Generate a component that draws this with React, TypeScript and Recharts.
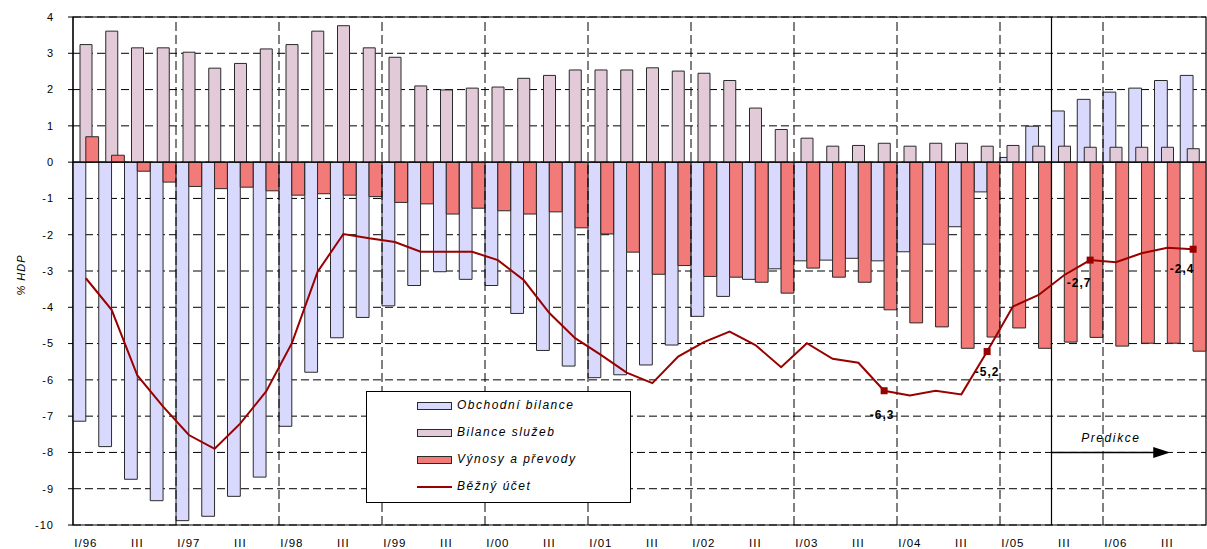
import React from "react";
import {
  ComposedChart,
  Bar,
  Line,
  XAxis,
  YAxis,
  CartesianGrid,
  ReferenceLine,
  ReferenceArea,
  Legend,
} from "recharts";

// ---------- data ----------
const quarters = [
  "I/96", "II/96", "III/96", "IV/96",
  "I/97", "II/97", "III/97", "IV/97",
  "I/98", "II/98", "III/98", "IV/98",
  "I/99", "II/99", "III/99", "IV/99",
  "I/00", "II/00", "III/00", "IV/00",
  "I/01", "II/01", "III/01", "IV/01",
  "I/02", "II/02", "III/02", "IV/02",
  "I/03", "II/03", "III/03", "IV/03",
  "I/04", "II/04", "III/04", "IV/04",
  "I/05", "II/05", "III/05", "IV/05",
  "I/06", "II/06", "III/06", "IV/06",
];

const seriesNames = ["Obchodní bilance", "Bilance služeb", "Výnosy a převody", "Běžný účet"];

// Obchodní bilance
const tradeBalance = [
  -7.14, -7.84, -8.74, -9.33, -9.88, -9.76, -9.21, -8.68,
  -7.28, -5.79, -4.84, -4.28, -3.96, -3.40, -3.02, -3.23,
  -3.40, -4.17, -5.19, -5.62, -5.94, -5.86, -5.59, -5.04,
  -4.25, -3.70, -3.23, -2.94, -2.72, -2.70, -2.65, -2.72,
  -2.47, -2.26, -1.78, -0.82, 0.13, 0.99, 1.41, 1.73,
  1.93, 2.04, 2.25, 2.39,
];

// Bilance služeb
const servicesBalance = [
  3.24, 3.61, 3.15, 3.15, 3.03, 2.59, 2.72, 3.12,
  3.24, 3.61, 3.76, 3.15, 2.89, 2.10, 1.99, 2.04,
  2.07, 2.31, 2.39, 2.54, 2.54, 2.54, 2.60, 2.51,
  2.45, 2.25, 1.49, 0.90, 0.66, 0.44, 0.46, 0.52,
  0.44, 0.52, 0.52, 0.44, 0.46, 0.44, 0.44, 0.41,
  0.41, 0.41, 0.41, 0.37,
];

// Výnosy a převody
const incomeTransfers = [
  0.70, 0.19, -0.25, -0.55, -0.67, -0.73, -0.69, -0.79,
  -0.91, -0.87, -0.91, -0.95, -1.11, -1.15, -1.43, -1.27,
  -1.34, -1.43, -1.37, -1.81, -1.98, -2.48, -3.09, -2.85,
  -3.15, -3.17, -3.31, -3.61, -2.92, -3.17, -3.31, -4.07,
  -4.43, -4.54, -5.13, -4.82, -4.57, -5.13, -4.96, -4.83,
  -5.07, -4.99, -4.99, -5.21,
];

// Běžný účet
const currentAccount = [
  -3.20, -4.07, -5.88, -6.74, -7.52, -7.90, -7.20, -6.32,
  -4.99, -3.02, -1.98, -2.10, -2.20, -2.47, -2.47, -2.47,
  -2.70, -3.25, -4.16, -4.85, -5.31, -5.80, -6.09, -5.36,
  -4.96, -4.67, -5.04, -5.65, -4.99, -5.42, -5.53, -6.30,
  -6.43, -6.30, -6.40, -5.22, -3.98, -3.66, -3.11, -2.70,
  -2.76, -2.51, -2.36, -2.40,
];

const pointLabels: Record<number, string> = {
  31: "-6,3",
  35: "-5,2",
  39: "-2,7",
  43: "-2,4",
};

const yTicks = [-10, -9, -8, -7, -6, -5, -4, -3, -2, -1, 0, 1, 2, 3, 4];
const predictionLabel = "Predikce";
const predictionStartQuarter = "III/05";
const predictionArrowFrom = "II/05";
const predictionArrowTo = "III/06";
const predictionArrowLevel = -8;

// ---------- derived ----------
const data = quarters.map((q, i) => ({
  q,
  trade: tradeBalance[i],
  services: servicesBalance[i],
  income: incomeTransfers[i],
  ca: currentAccount[i],
}));

const yearStarts = quarters.filter((q, i) => i > 0 && q.startsWith("I/"));

// ---------- styles ----------
const FONT = "'Liberation Sans', Arial, Helvetica, sans-serif";
const BLUE = "#d9d9fd";
const PINK = "#e2cad9";
const RED = "#f27a78";
const LINE = "#990000";
const BAR_STROKE = "#2a2a2a";
const labelDx: Record<number, number> = { 31: -2, 35: 0, 39: -11, 43: -11 };
const labelDy: Record<number, number> = { 31: 28, 35: 24, 39: 27, 43: 24 };

const xTickFormatter = (v: string) => {
  if (v.startsWith("I/")) return v;
  if (v.startsWith("III/")) return "III";
  return "";
};

const renderDot = (p: any) => {
  const { cx, cy, index } = p;
  const lab = pointLabels[index];
  if (!lab || cx == null || cy == null) return <g key={`d${index}`} />;
  return (
    <g key={`d${index}`}>
      <rect x={cx - 3.5} y={cy - 3.5} width={7} height={7} fill={LINE} />
      <text
        x={cx + (labelDx[index] || 0)}
        y={cy + (labelDy[index] || 24)}
        textAnchor="middle"
        fontFamily={FONT}
        fontSize={12}
        fontWeight="bold"
        letterSpacing={1}
        fill="#000"
      >
        {lab}
      </text>
    </g>
  );
};

const renderArrow = (p: any) => {
  const { x1, y1, x2, y2 } = p;
  const tip = x2 - 10;
  return (
    <g>
      <line x1={x1} y1={y1} x2={tip - 14} y2={y2} stroke="#000" strokeWidth={1.5} />
      <polygon
        points={`${tip - 17},${y2 - 5.5} ${tip},${y2} ${tip - 17},${y2 + 5.5}`}
        fill="#000"
      />
      <text
        x={(x1 + tip) / 2}
        y={y1 - 10.5}
        textAnchor="middle"
        fontFamily={FONT}
        fontSize={12}
        fontStyle="italic"
        letterSpacing={1.6}
        fill="#000"
      >
        {predictionLabel}
      </text>
    </g>
  );
};

const renderLegend = (props: any) => {
  const payload = [...(props.payload || [])].sort(
    (a: any, b: any) => seriesNames.indexOf(a.value) - seriesNames.indexOf(b.value)
  );
  return (
    <div
      style={{
        width: 265,
        height: 112,
        boxSizing: "border-box",
        border: "1px solid #000",
        background: "#fff",
        fontFamily: FONT,
      }}
    >
      {payload.map((e: any, i: number) => (
        <div key={i} style={{ height: 27, position: "relative" }}>
          <svg
            width={36}
            height={10}
            style={{ position: "absolute", left: 50, top: 8.5 }}
          >
            {e.type === "line" ? (
              <line x1={0} y1={5} x2={35} y2={5} stroke={e.color} strokeWidth={2} />
            ) : (
              <rect
                x={0.5}
                y={1.5}
                width={34}
                height={7}
                fill={e.color}
                stroke={BAR_STROKE}
                strokeWidth={1}
              />
            )}
          </svg>
          <span
            style={{
              position: "absolute",
              left: 90,
              top: 5,
              fontSize: 12,
              fontStyle: "italic",
              letterSpacing: 1.5,
              color: "#000",
              whiteSpace: "nowrap",
              lineHeight: "16px",
            }}
          >
            {e.value}
          </span>
        </div>
      ))}
    </div>
  );
};

export default function App() {
  return (
    <div style={{ position: "absolute", left: 0, top: 0, fontFamily: FONT }}>
      <ComposedChart
        width={1207}
        height={549}
        data={data}
        margin={{ top: 17, right: 1, bottom: 0, left: 0 }}
        barGap={0}
      >
        <CartesianGrid
          vertical={false}
          stroke="#000"
          strokeDasharray="8 4"
          strokeWidth={1}
        />
        <XAxis
          dataKey="q"
          interval={0}
          axisLine={false}
          tickLine={false}
          tickMargin={8}
          height={24}
          tickFormatter={xTickFormatter}
          tick={{ fontSize: 11.5, fill: "#000", fontFamily: FONT, letterSpacing: 1 }}
        />
        <XAxis dataKey="q" xAxisId="p" hide />
        <YAxis
          domain={[-10, 4]}
          ticks={yTicks}
          interval={0}
          width={73}
          tickSize={5}
          tickMargin={14}
          axisLine={{ stroke: "#000" }}
          tickLine={{ stroke: "#000" }}
          tick={{ fontSize: 11, fill: "#000", fontFamily: FONT, letterSpacing: 1 }}
          label={{
            value: "% HDP",
            angle: -90,
            position: "center",
            dx: -15,
            dy: 4,
            style: { fontSize: 11, fontStyle: "italic", fill: "#000", fontFamily: FONT, letterSpacing: 1 },
          }}
        />
        {yearStarts.map((q) => (
          <ReferenceLine
            key={`yb${q}`}
            x={q}
            position="start"
            stroke="#000"
            strokeDasharray="9 4"
            strokeWidth={1}
          />
        ))}
        <Bar
          dataKey="trade"
          name={seriesNames[0]}
          fill={BLUE}
          stroke={BAR_STROKE}
          strokeWidth={1}
          barSize={12.8}
          isAnimationActive={false}
        />
        <Bar
          dataKey="services"
          name={seriesNames[1]}
          xAxisId="p"
          fill={PINK}
          stroke={BAR_STROKE}
          strokeWidth={1}
          barSize={12}
          isAnimationActive={false}
        />
        <Bar
          dataKey="income"
          name={seriesNames[2]}
          fill={RED}
          stroke={BAR_STROKE}
          strokeWidth={1}
          barSize={12.8}
          isAnimationActive={false}
        />
        <ReferenceLine y={0} stroke="#000" strokeWidth={1.2} />
        <ReferenceLine
          x={predictionStartQuarter}
          position="start"
          stroke="#000"
          strokeWidth={1.2}
        />
        <ReferenceLine
          position="end"
          segment={[
            { x: predictionArrowFrom, y: predictionArrowLevel },
            { x: predictionArrowTo, y: predictionArrowLevel },
          ]}
          shape={renderArrow}
        />
        <ReferenceArea
          y1={-10}
          y2={4}
          fill="none"
          fillOpacity={0}
          stroke="#000"
          strokeWidth={1.2}
        />
        <Line
          type="linear"
          dataKey="ca"
          name={seriesNames[3]}
          stroke={LINE}
          strokeWidth={2}
          dot={renderDot}
          activeDot={false}
          legendType="line"
          isAnimationActive={false}
        />
        <Legend
          layout="vertical"
          align="center"
          verticalAlign="middle"
          content={renderLegend}
          wrapperStyle={{ left: 366, top: 391, width: 265, height: 112 }}
        />
      </ComposedChart>
    </div>
  );
}
